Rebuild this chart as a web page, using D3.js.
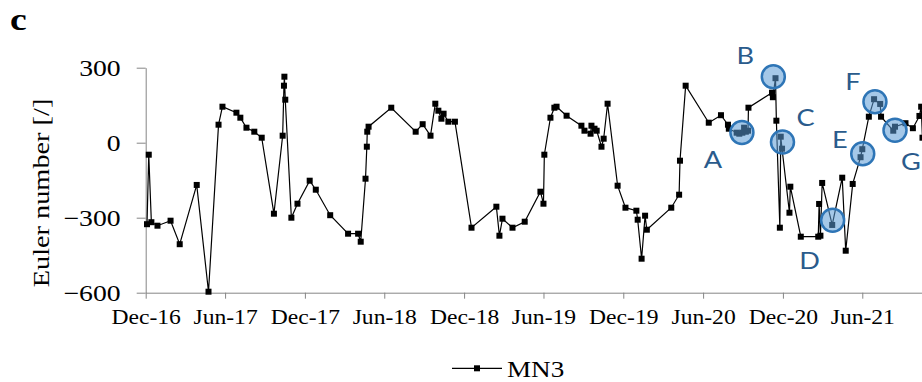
<!DOCTYPE html>
<html>
<head>
<meta charset="utf-8">
<script src="https://cdn.jsdelivr.net/npm/d3@7"></script>
<style>
  body { margin: 0; background: #fff; }
  svg { display: block; }
</style>
</head>
<body>
<svg width="922" height="382"></svg>
<script>
// MN3 series: sampling dates and the Euler number
const dates = [
    "2016-12-04", "2016-12-08", "2016-12-14", "2016-12-28", "2017-01-27", "2017-02-17", "2017-03-28", "2017-04-24",
    "2017-05-17", "2017-05-26", "2017-06-27", "2017-07-06", "2017-07-20", "2017-08-07", "2017-08-24", "2017-09-21",
    "2017-10-11", "2017-10-14", "2017-10-15", "2017-10-17", "2017-10-31", "2017-11-14", "2017-12-12", "2017-12-26",
    "2018-01-28", "2018-03-10", "2018-04-02", "2018-04-08", "2018-04-19", "2018-04-22", "2018-04-23", "2018-04-26",
    "2018-06-17", "2018-08-12", "2018-08-28", "2018-09-15", "2018-09-26", "2018-10-03", "2018-10-10", "2018-10-15",
    "2018-10-26", "2018-11-10", "2018-12-18", "2019-02-13", "2019-02-20", "2019-02-27", "2019-03-22", "2019-04-19",
    "2019-05-25", "2019-06-01", "2019-06-03", "2019-06-17", "2019-06-26", "2019-07-01", "2019-07-24", "2019-08-27",
    "2019-09-03", "2019-09-17", "2019-09-19", "2019-09-26", "2019-10-01", "2019-10-12", "2019-10-17", "2019-10-26",
    "2019-11-18", "2019-12-06", "2019-12-31", "2020-01-03", "2020-01-12", "2020-01-20", "2020-01-24", "2020-03-20",
    "2020-04-07", "2020-04-09", "2020-04-22", "2020-06-14", "2020-07-12", "2020-07-28", "2020-07-30", "2020-08-17",
    "2020-08-23", "2020-08-30", "2020-09-03", "2020-09-07", "2020-09-12", "2020-09-13", "2020-11-06", "2020-11-08",
    "2020-11-14", "2020-11-16", "2020-11-24", "2020-11-26", "2020-11-29", "2020-12-16", "2020-12-18", "2021-01-11",
    "2021-02-20", "2021-02-22", "2021-02-25", "2021-03-01", "2021-03-24", "2021-04-16", "2021-04-24", "2021-05-10",
    "2021-05-28", "2021-06-01", "2021-06-16", "2021-06-28", "2021-07-12", "2021-07-14", "2021-08-11", "2021-08-15",
    "2021-09-08", "2021-09-25", "2021-10-10", "2021-10-14", "2021-10-17"
];
const euler = [
    -326, -48, -318, -332, -312, -406, -169, -596,
    72, 144, 120, 100, 60, 44, 20, -284,
    28, 228, 264, 172, -300, -244, -152, -188,
    -290, -364, -364, -396, -144, -16, 44, 64,
    140, 44, 74, 28, 156, 128, 96, 116,
    84, 84, -340, -256, -372, -304, -340, -316,
    -196, -244, -48, 100, 140, 144, 108, 68,
    48, 36, 68, 56, 48, -16, 16, 156,
    -172, -260, -272, -308, -464, -292, -348, -260,
    -208, -72, 228, 80, 110, 72, 56, 40,
    36, 40, 60, 44, 48, 140, 200, 182,
    258, 88, -340, 24, -24, -280, -176, -376,
    -376, -245, -372, -161, -329, -140, -432, -165,
    -58, -26, 104, 174, 155, 104, 48, 64,
    78, 58, 107, 144, 20
];

// axis ticks
const tickLabels = ["Dec-16", "Jun-17", "Dec-17", "Jun-18", "Dec-18", "Jun-19", "Dec-19", "Jun-20", "Dec-20", "Jun-21"];
const yTicks = [-600, -300, 0, 300];

// circled events A..G
const markLabels = ["A", "B", "C", "D", "E", "F", "G"];
const markDates = ["2020-08-29", "2020-11-09", "2020-11-30", "2021-03-25", "2021-06-02", "2021-06-30", "2021-08-15"];
const markValues = [41, 264, 3, -310, -44, 164, 50];

window.addEventListener('load', () => {
    const svg = d3.select("svg");
    const serif = "'Liberation Serif', 'Times New Roman', serif";
    // the figure's text is drawn a bit wider than normal
    const stretch = 1.18;
    const widen = (sel) => sel.each(function () {
        const t = d3.select(this);
        const x = +t.attr("x") || 0;
        t.attr("x", 0).attr("transform", `translate(${x},0) scale(${stretch},1)`);
    });

    const parse = d3.utcParse("%Y-%m-%d");
    const parseTick = d3.utcParse("%b-%y");
    const data = dates.map((d, i) => ({ date: parse(d), value: euler[i] }));

    // date axis: one day is about 0.436 px
    const x0 = 145.7, pxPerDay = 0.43615;
    const start = Date.UTC(2016, 11, 1), end = Date.UTC(2021, 11, 1);
    const xScale = d3.scaleUtc()
        .domain([start, end])
        .range([x0, x0 + (end - start) / 864e5 * pxPerDay]);
    const yScale = d3.scaleLinear().domain([-600, 300]).range([292.7, 67.7]);

    // panel letter
    svg.append("text")
        .attr("x", 10).attr("y", 30)
        .style("font-family", serif).style("font-size", "32px").style("font-weight", "bold")
        .text("c")
        .call(widen);

    // y axis
    const yAxis = svg.append("g").attr("transform", `translate(${x0},0)`)
        .call(d3.axisLeft(yScale).tickValues(yTicks).tickSize(9).tickSizeOuter(0).tickPadding(16));
    yAxis.selectAll("path, line").attr("stroke", "#868686");
    yAxis.selectAll("text")
        .style("font-family", serif).style("font-size", "23.5px").attr("fill", "#000")
        .call(widen);

    // x axis
    const xAxis = svg.append("g").attr("transform", `translate(0,${yScale(-600)})`)
        .call(d3.axisBottom(xScale)
            .tickValues(tickLabels.map(parseTick))
            .tickFormat((d, i) => tickLabels[i])
            .tickSize(6).tickSizeOuter(0).tickPadding(11));
    xAxis.selectAll("path, line").attr("stroke", "#868686");
    xAxis.selectAll("text")
        .style("font-family", serif).style("font-size", "20px").attr("fill", "#000")
        .call(widen);

    // y axis title
    svg.append("g").attr("transform", "translate(49,193) rotate(-90)")
        .append("text")
        .attr("text-anchor", "middle")
        .style("font-family", serif).style("font-size", "24px")
        .text("Euler number [/]")
        .call(widen);

    // the series line and its square markers
    const line = d3.line().x(d => xScale(d.date)).y(d => yScale(d.value));
    svg.append("path").datum(data)
        .attr("d", line)
        .attr("fill", "none").attr("stroke", "#000").attr("stroke-width", 1.2);
    svg.selectAll(".pt")
        .data(data)
        .enter().append("rect")
        .attr("class", "pt")
        .attr("x", d => xScale(d.date) - 3)
        .attr("y", d => yScale(d.value) - 3)
        .attr("width", 6).attr("height", 6)
        .attr("fill", "#000");

    // highlighted events, labels sit next to each circle
    const labelOffset = {
        A: [-29, 36], B: [-28, -13], C: [23, -16], D: [-23, 49],
        E: [-23, -6], F: [-22, -12], G: [16, 40]
    };
    const marks = markLabels.map((l, i) => ({ label: l, date: parse(markDates[i]), value: markValues[i] }));
    svg.selectAll(".mark")
        .data(marks)
        .enter().append("circle")
        .attr("class", "mark")
        .attr("cx", d => xScale(d.date))
        .attr("cy", d => yScale(d.value))
        .attr("r", 11.5)
        .attr("fill", "#5b9bd5").attr("fill-opacity", 0.55)
        .attr("stroke", "#2e75b6").attr("stroke-width", 2.5);
    svg.selectAll(".mark-label")
        .data(marks)
        .enter().append("g")
        .attr("transform", d => `translate(${xScale(d.date) + labelOffset[d.label][0]},${yScale(d.value) + labelOffset[d.label][1]})`)
        .append("text")
        .attr("class", "mark-label")
        .attr("text-anchor", "middle")
        .style("font-family", "Lato, 'Open Sans', sans-serif").style("font-size", "23px")
        .attr("fill", "#2a5b8c")
        .text(d => d.label)
        .call(widen);

    // legend
    const legend = svg.append("g");
    legend.append("line")
        .attr("x1", 452).attr("x2", 502).attr("y1", 368.3).attr("y2", 368.3)
        .attr("stroke", "#000").attr("stroke-width", 1.2);
    legend.append("rect")
        .attr("x", 474).attr("y", 365.3).attr("width", 6).attr("height", 6)
        .attr("fill", "#000");
    legend.append("text")
        .attr("x", 507).attr("y", 376.7)
        .style("font-family", serif).style("font-size", "23px")
        .text("MN3")
        .call(widen);
});
</script>
</body>
</html>
